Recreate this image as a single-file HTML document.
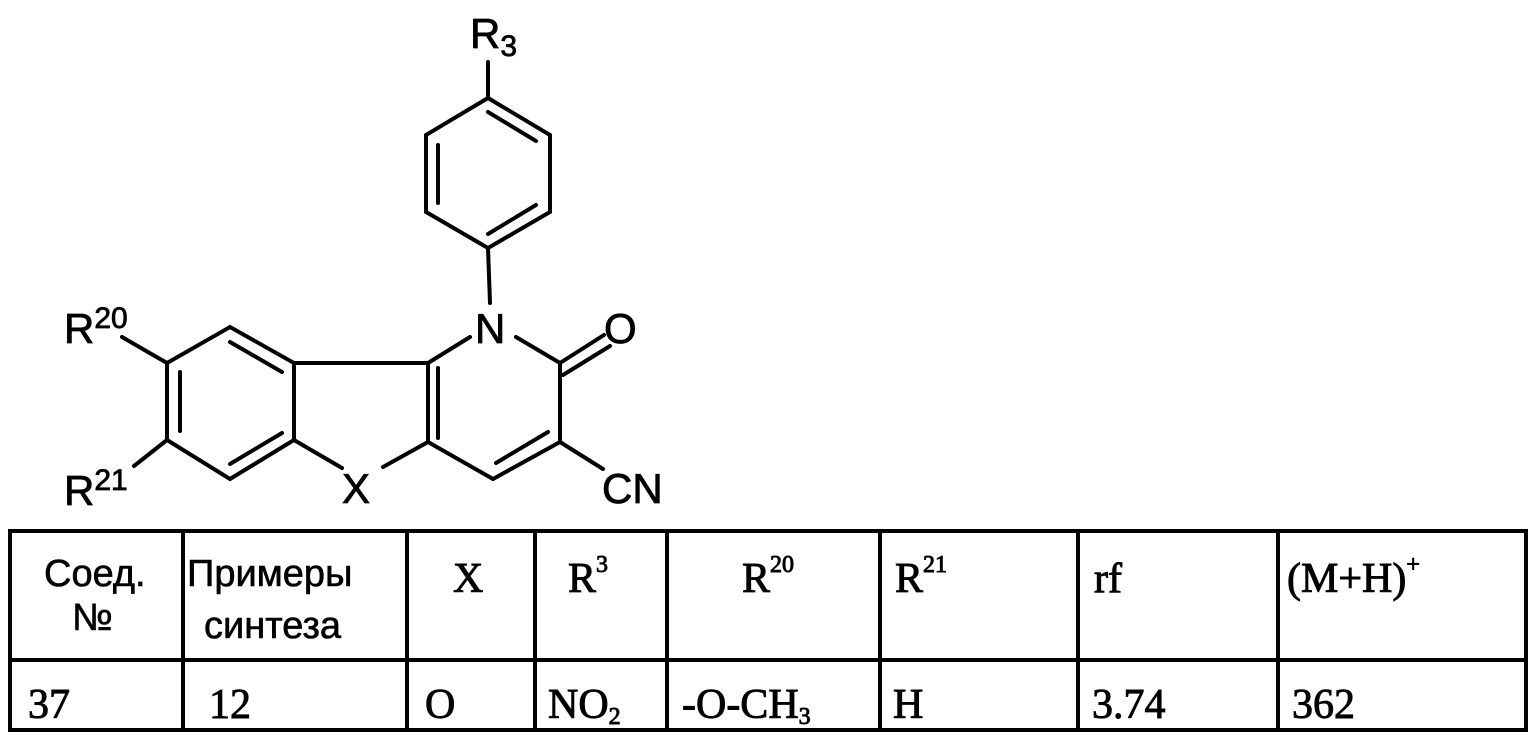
<!DOCTYPE html>
<html><head><meta charset="utf-8"><style>
html,body{margin:0;padding:0;background:#fff;}
svg{display:block;}
.s{font-family:"Liberation Sans",sans-serif;}
.t{font-family:"Liberation Serif",serif;}
</style></head><body>
<svg width="1532" height="750" viewBox="0 0 1532 750" xmlns="http://www.w3.org/2000/svg">
<g stroke="#000" stroke-width="4" fill="none" stroke-linecap="round">
<polygon points="488,98 550,135 550,212 488,248 426,212 426,135"/>
<line x1="488" y1="112" x2="536" y2="141"/>
<line x1="438" y1="145" x2="438" y2="203"/>
<line x1="488" y1="234" x2="536" y2="205"/>
<line x1="488" y1="62" x2="488" y2="98"/>
<line x1="488" y1="248" x2="490" y2="303"/>
<polygon points="230,327 294,363 294,440 230,479 167,440 167,363"/>
<line x1="230" y1="342" x2="282" y2="372"/>
<line x1="180" y1="372" x2="180" y2="431"/>
<line x1="230" y1="464" x2="282" y2="433"/>
<line x1="294" y1="363" x2="428" y2="363"/>
<line x1="294" y1="440" x2="342" y2="468"/>
<line x1="383" y1="467" x2="428" y2="442"/>
<line x1="428" y1="363" x2="428" y2="442"/>
<line x1="438" y1="368" x2="438" y2="438"/>
<line x1="428" y1="363" x2="470" y2="337"/>
<line x1="516" y1="337" x2="560" y2="363"/>
<line x1="560" y1="363" x2="560" y2="442"/>
<line x1="560" y1="442" x2="493" y2="479"/>
<line x1="548" y1="432" x2="496" y2="463"/>
<line x1="493" y1="479" x2="428" y2="442"/>
<line x1="560" y1="363" x2="604" y2="335"/>
<line x1="563" y1="375" x2="610" y2="346"/>
<line x1="560" y1="442" x2="603" y2="469"/>
<line x1="167" y1="363" x2="122" y2="337"/>
<line x1="167" y1="440" x2="134" y2="466"/>
<rect x="10" y="531" width="1516" height="199"/>
<line x1="10" y1="660" x2="1526" y2="660"/>
<line x1="183" y1="531" x2="183" y2="730"/>
<line x1="407" y1="531" x2="407" y2="730"/>
<line x1="535" y1="531" x2="535" y2="730"/>
<line x1="667" y1="531" x2="667" y2="730"/>
<line x1="880" y1="531" x2="880" y2="730"/>
<line x1="1078" y1="531" x2="1078" y2="730"/>
<line x1="1278" y1="531" x2="1278" y2="730"/>
</g>
<g class="s" font-size="42" fill="#000" stroke="#000" stroke-width="0.8">
<text x="470" y="48">R<tspan font-size="30" dy="8">3</tspan></text>
<text x="475" y="343">N</text>
<text x="604" y="343">O</text>
<text x="64" y="343">R<tspan font-size="30" dy="-15">20</tspan></text>
<text x="64" y="505">R<tspan font-size="30" dy="-15">21</tspan></text>
<text x="342" y="503">X</text>
<text x="602" y="503">CN</text>
</g>
<g class="s" font-size="38" fill="#000" stroke="#000" stroke-width="0.6">
<text x="44" y="586">Соед.</text>
<text x="72" y="630">№</text>
<text x="187" y="586">Примеры</text>
<text x="204" y="638">синтеза</text>
</g>
<g class="t" font-size="42" fill="#000" stroke="#000" stroke-width="0.9">
<text x="453" y="592">X</text>
<text x="568" y="592">R<tspan font-size="24" dy="-20">3</tspan></text>
<text x="742" y="592">R<tspan font-size="24" dy="-20">20</tspan></text>
<text x="895" y="592">R<tspan font-size="24" dy="-20">21</tspan></text>
<text x="1094" y="592">rf</text>
<text x="1287" y="592">(M+H)<tspan font-size="24" dy="-20">+</tspan></text>
<text x="28" y="718">37</text>
<text x="209" y="718">12</text>
<text x="425" y="718">O</text>
<text x="548" y="718">NO<tspan font-size="24" dy="6">2</tspan></text>
<text x="682" y="718">-O-CH<tspan font-size="24" dy="6">3</tspan></text>
<text x="893" y="718">H</text>
<text x="1092" y="718">3.74</text>
<text x="1292" y="718">362</text>
</g>
</svg>
</body></html>
